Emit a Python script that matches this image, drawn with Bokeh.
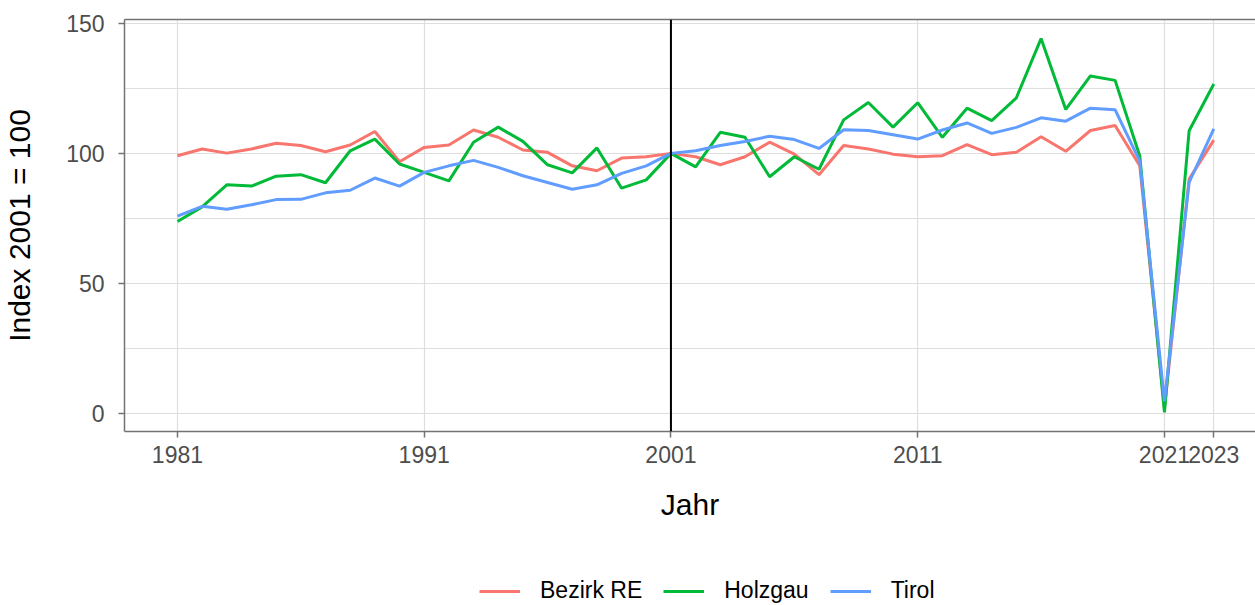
from bokeh.plotting import figure
from bokeh.layouts import column
from bokeh.models import FixedTicker, Span, Legend, LegendItem, LinearAxis, Range1d
from bokeh.embed import file_html
from bokeh.resources import INLINE

years = list(range(1981, 2024))
bezirk_re = [99.1, 101.7, 100.1, 101.7, 103.9, 103.0, 100.6, 103.2, 108.4, 96.8,
             102.3, 103.2, 109.0, 106.2, 101.3, 100.4, 95.2, 93.3, 98.2, 98.7,
             100.0, 98.7, 95.6, 98.7, 104.3, 99.7, 91.8, 103.0, 101.7, 99.7,
             98.7, 99.1, 103.4, 99.5, 100.4, 106.4, 100.8, 108.8, 110.7, 95.2,
             2.0, 90.1, 105.1]
holzgau = [73.8, 79.4, 87.9, 87.4, 91.2, 91.8, 88.7, 101.0, 105.5, 95.9,
           92.7, 89.4, 104.3, 110.1, 104.6, 95.6, 92.5, 102.1, 86.6, 89.8,
           100.0, 94.8, 108.1, 106.2, 91.0, 98.7, 93.9, 112.9, 119.6, 110.1,
           119.5, 106.2, 117.4, 112.6, 121.4, 144.2, 116.9, 129.8, 128.1, 99.0,
           0.3, 108.7, 126.7]
tirol = [75.8, 79.6, 78.5, 80.2, 82.2, 82.3, 84.8, 85.8, 90.5, 87.4,
         92.7, 95.2, 97.3, 94.6, 91.4, 88.8, 86.2, 87.9, 92.3, 95.2,
         100.0, 101.0, 103.0, 104.6, 106.6, 105.3, 101.9, 109.1, 108.8, 107.2,
         105.5, 109.0, 111.7, 107.7, 110.0, 113.7, 112.4, 117.4, 116.8, 97.0,
         4.5, 88.8, 109.4]

series_names = ["Bezirk RE", "Holzgau", "Tirol"]
series_colors = ["#F8766D", "#00BA38", "#619CFF"]
x_ticks = [1981, 1991, 2001, 2011, 2021, 2023]
y_ticks = [0, 50, 100, 150]
y_minor = [25, 75, 125]
ref_year = 2001

FONT = "Liberation Sans"
AX = "#737373"
GRID = "#DEDEDE"
W = 1255

p = figure(width=W, height=575, output_backend="svg", toolbar_location=None,
           x_range=Range1d(1978.854, 2024.69), y_range=Range1d(-7.08, 151.54),
           min_border_left=123, min_border_right=0, min_border_top=19,
           min_border_bottom=144)
p.outline_line_color = None
p.background_fill_color = "white"
p.border_fill_color = "white"

p.xaxis.ticker = FixedTicker(ticks=x_ticks)
p.yaxis.ticker = FixedTicker(ticks=y_ticks, minor_ticks=y_minor)

for ax in (p.xaxis[0], p.yaxis[0]):
    ax.axis_line_color = AX
    ax.axis_line_width = 1.5
    ax.major_tick_line_color = AX
    ax.major_tick_line_width = 1.5
    ax.major_tick_out = 6
    ax.major_tick_in = 0
    ax.minor_tick_line_color = None
    ax.major_label_text_font = FONT
    ax.major_label_text_font_size = "23px"
    ax.major_label_text_color = "#4D4D4D"
    ax.axis_label_text_font = FONT
    ax.axis_label_text_font_size = "30px"
    ax.axis_label_text_font_style = "normal"
    ax.axis_label_text_color = "black"

p.xaxis.axis_label = "Jahr"
p.yaxis.axis_label = "Index 2001 = 100"
p.xaxis.major_label_standoff = 8
p.xaxis.axis_label_standoff = 22
p.yaxis.major_label_standoff = 14
p.yaxis.axis_label_standoff = 27

top_axis = LinearAxis(ticker=FixedTicker(ticks=[]), axis_line_color=AX, axis_line_width=1.5,
                      major_tick_line_color=None, minor_tick_line_color=None)
p.add_layout(top_axis, "above")

p.xgrid.grid_line_color = GRID
p.xgrid.grid_line_width = 1.2
p.ygrid.grid_line_color = GRID
p.ygrid.grid_line_width = 1.2
p.ygrid.minor_grid_line_color = GRID
p.ygrid.minor_grid_line_width = 1.2

p.add_layout(Span(location=ref_year, dimension="height", line_color="black", line_width=2))

series = [bezirk_re, holzgau, tirol]
for ys, c in zip(series, series_colors):
    p.line(years, ys, line_color=c, line_width=3)

# legend strip below the chart (its frame is aligned with the chart frame by the column layout);
# the key renderers use the same data, but lie outside this strip's visible range
lg = figure(width=W, height=30, output_backend="svg", toolbar_location=None,
            x_range=Range1d(1978.854, 2024.69), y_range=Range1d(-1000, -999),
            min_border_left=0, min_border_right=0, min_border_top=0, min_border_bottom=0)
lg.axis.visible = False
lg.grid.visible = False
lg.outline_line_color = None
lg.background_fill_color = "white"
lg.border_fill_color = "white"
keys = [lg.line(years, ys, line_color=c, line_width=3) for ys, c in zip(series, series_colors)]

legend = Legend(items=[LegendItem(label=n, renderers=[r]) for n, r in zip(series_names, keys)],
                orientation="horizontal", location=(355, 1))
legend.label_text_font = FONT
legend.label_text_font_size = "23px"
legend.label_text_color = "black"
legend.glyph_width = 41
legend.glyph_height = 20
legend.label_standoff = 20
legend.spacing = 21
legend.padding = 0
legend.margin = 0
legend.border_line_color = None
legend.background_fill_alpha = 0
lg.add_layout(legend, "center")

open("out.html", "w").write(file_html(column(p, lg), INLINE))
